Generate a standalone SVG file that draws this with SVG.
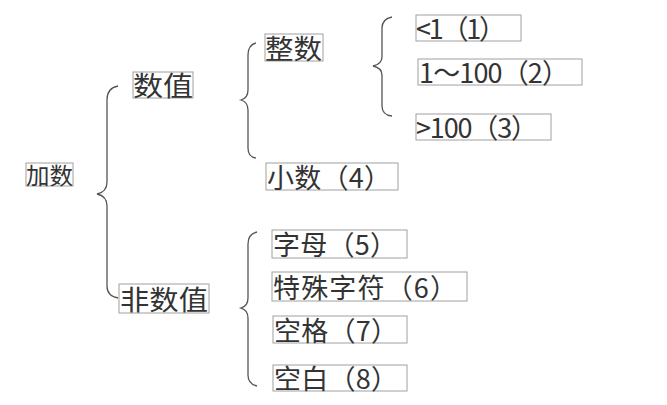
<svg xmlns="http://www.w3.org/2000/svg" width="667" height="405" viewBox="0 0 667 405">
<style>
.b{fill:none;stroke:#a0a0a0;stroke-width:1}
.t{font-family:"Noto Sans CJK SC","Noto Sans",sans-serif;font-size:27px;fill:#333}
.c{fill:none;stroke:#555;stroke-width:1.3}
</style>
<rect width="667" height="405" fill="#fff"/>
<g id="connectors">
<path class="c" d="M118,86 Q107,88 107,100 L107,182 Q107,192 97,194 Q107,196 107,206 L107,286 Q107,296 118,298"/>
<path class="c" d="M256,43 Q248,45 248,55 L248,90 Q248,98 241,100 Q248,102 248,110 L248,148 Q248,157 256,158"/>
<path class="c" d="M392,17 Q382,19 382,28 L382,57 Q382,64 373,66 Q382,68 382,75 L382,106 Q382,115 392,116"/>
<path class="c" d="M257,232 Q248,234 248,244 L248,298 Q248,306 241,308 Q248,310 248,318 L248,375 Q248,384 257,386"/>
</g>
<g id="n0"><rect class="b" x="26" y="163" width="47" height="23"/><text class="t" x="26" y="184" textLength="47" lengthAdjust="spacingAndGlyphs" style="font-size:23px">加数</text></g>
<g id="n1"><rect class="b" x="133" y="72" width="60" height="26"/><text class="t" x="133" y="96" textLength="60" lengthAdjust="spacingAndGlyphs">数值</text></g>
<g id="n2"><rect class="b" x="265" y="34" width="58" height="27"/><text class="t" x="265" y="59" textLength="57" lengthAdjust="spacingAndGlyphs">整数</text></g>
<g id="n3"><rect class="b" x="266" y="163" width="132" height="27"/><text class="t" x="267" y="188" textLength="124" lengthAdjust="spacing">小数（4）</text></g>
<g id="n4"><rect class="b" x="416" y="15" width="105" height="26"/><text class="t" x="416" y="39" textLength="90" lengthAdjust="spacing">&lt;1（1）</text></g>
<g id="n5"><rect class="b" x="418" y="59" width="164" height="26"/><text class="t" x="419" y="83" textLength="150" lengthAdjust="spacing">1～100（2）</text></g>
<g id="n6"><rect class="b" x="416" y="114" width="135" height="26"/><text class="t" x="416" y="138" textLength="122" lengthAdjust="spacing">&gt;100（3）</text></g>
<g id="n7"><rect class="b" x="119" y="284" width="90" height="29"/><text class="t" x="120" y="310" textLength="88" lengthAdjust="spacingAndGlyphs">非数值</text></g>
<g id="n8"><rect class="b" x="272" y="230" width="135" height="28"/><text class="t" x="273" y="255" textLength="124" lengthAdjust="spacing">字母（5）</text></g>
<g id="n9"><rect class="b" x="272" y="272" width="195" height="29"/><text class="t" x="273" y="298" textLength="184" lengthAdjust="spacing">特殊字符（6）</text></g>
<g id="n10"><rect class="b" x="273" y="316" width="134" height="27"/><text class="t" x="274" y="341" textLength="124" lengthAdjust="spacing">空格（7）</text></g>
<g id="n11"><rect class="b" x="273" y="365" width="134" height="26"/><text class="t" x="274" y="389" textLength="124" lengthAdjust="spacing">空白（8）</text></g>
</svg>
